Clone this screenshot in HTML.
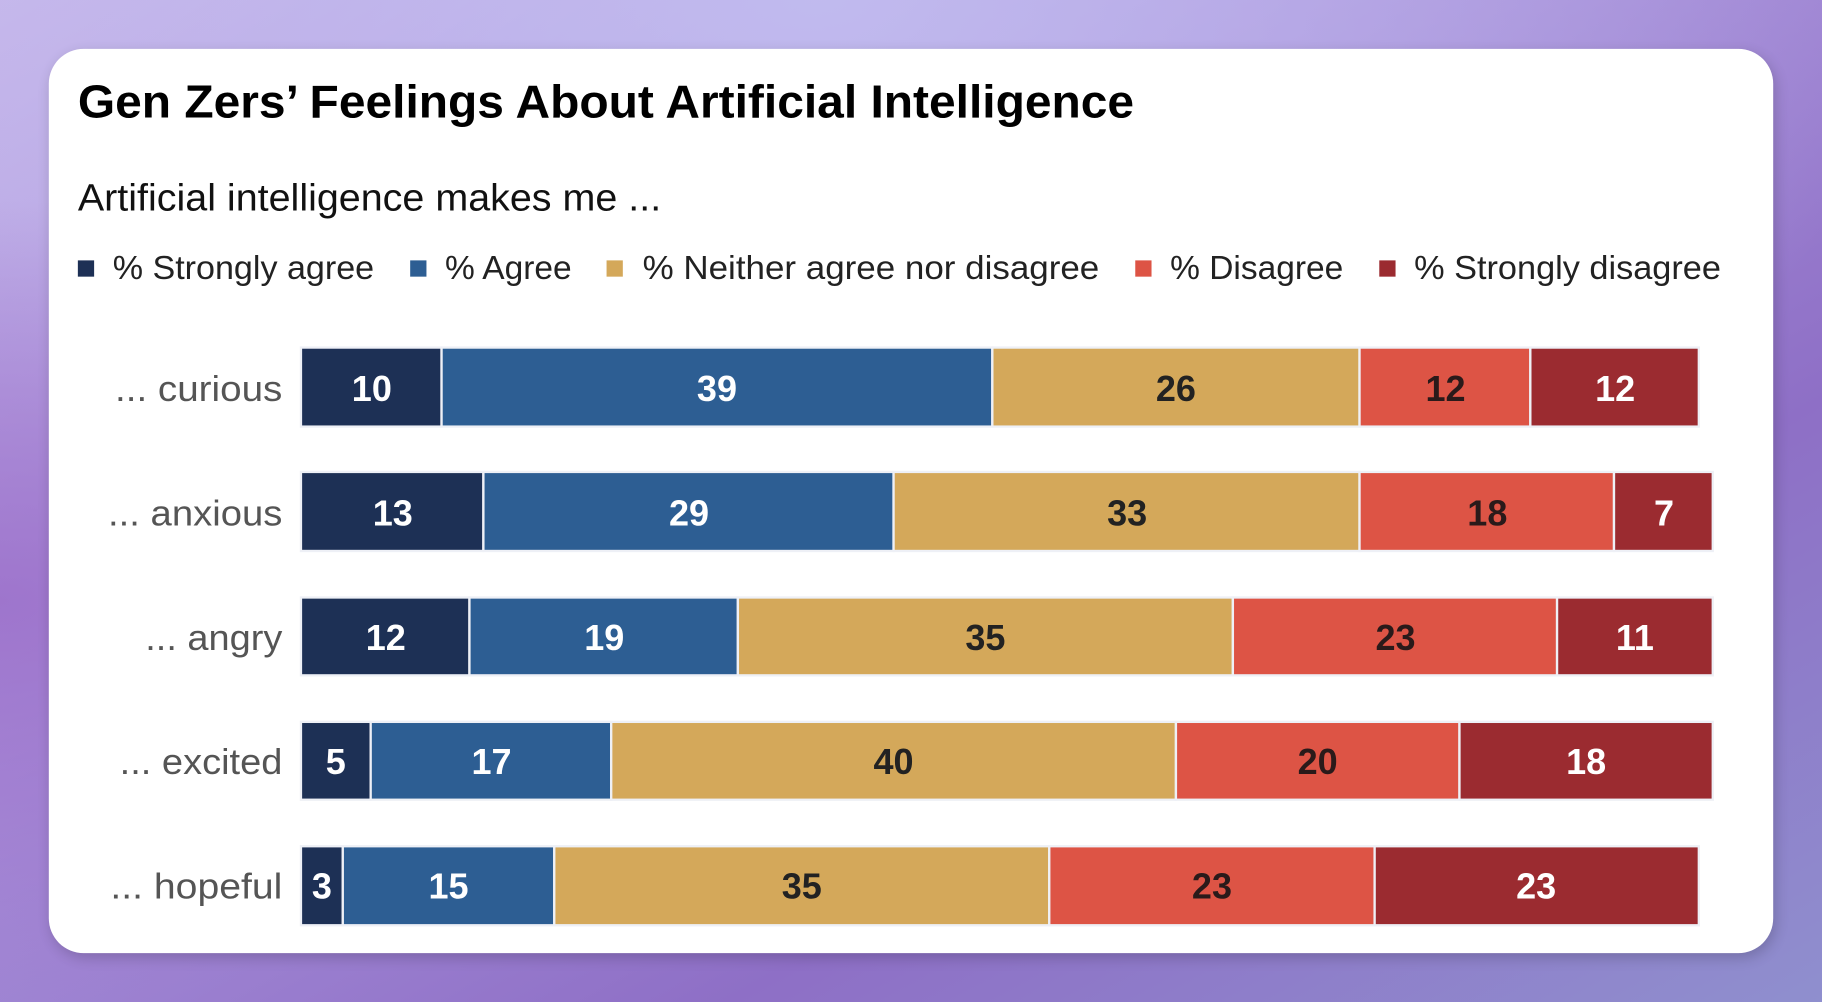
<!DOCTYPE html>
<html><head><meta charset="utf-8"><style>
html,body{margin:0;padding:0;width:1822px;height:1002px;overflow:hidden}
svg{display:block}
text{font-family:"Liberation Sans",sans-serif}
</style></head><body>
<svg width="1822" height="1002" viewBox="0 0 1568 862" preserveAspectRatio="none" xmlns="http://www.w3.org/2000/svg">
<defs>
<linearGradient id="bg" x1="0" y1="0" x2="1" y2="1">
<stop offset="0" stop-color="#c6b6ea"/>
<stop offset="0.35" stop-color="#ab94dc"/>
<stop offset="0.7" stop-color="#8e6fc6"/>
<stop offset="1" stop-color="#8f8fce"/>
</linearGradient>
<radialGradient id="g1" cx="0.45" cy="0" r="0.6">
<stop offset="0" stop-color="#c2bdf0" stop-opacity="0.9"/>
<stop offset="1" stop-color="#c2bdf0" stop-opacity="0"/>
</radialGradient>
<radialGradient id="g2" cx="0" cy="0.6" r="0.4">
<stop offset="0" stop-color="#9a6cc8" stop-opacity="0.8"/>
<stop offset="1" stop-color="#9a6cc8" stop-opacity="0"/>
</radialGradient>
<filter id="sh" x="-5%" y="-5%" width="110%" height="110%"><feGaussianBlur stdDeviation="6"/></filter>
</defs>
<rect width="1568" height="862" fill="url(#bg)"/>
<rect width="1568" height="862" fill="url(#g1)"/>
<rect width="1568" height="862" fill="url(#g2)"/>
<rect x="44" y="46" width="1484" height="778" rx="30" fill="#000" opacity="0.18" filter="url(#sh)"/>
<rect x="42" y="42" width="1484" height="778" rx="30" fill="#fff"/>

<text x="67" y="101" font-size="40" font-weight="bold" fill="#000" textLength="909" lengthAdjust="spacingAndGlyphs">Gen Zers’ Feelings About Artificial Intelligence</text>
<text x="67" y="181" font-size="33" fill="#111" textLength="502" lengthAdjust="spacingAndGlyphs">Artificial intelligence makes me ...</text>

<g font-size="29" fill="#222">
<rect x="67" y="224" width="14" height="14" fill="#1d3055"/>
<text x="97" y="240" textLength="225" lengthAdjust="spacingAndGlyphs">% Strongly agree</text>
<rect x="353" y="224" width="14" height="14" fill="#2d5e93"/>
<text x="383" y="240" textLength="109" lengthAdjust="spacingAndGlyphs">% Agree</text>
<rect x="522" y="224" width="14" height="14" fill="#d4a85a"/>
<text x="553" y="240" textLength="393" lengthAdjust="spacingAndGlyphs">% Neither agree nor disagree</text>
<rect x="977" y="224" width="14" height="14" fill="#dd5445"/>
<text x="1007" y="240" textLength="149" lengthAdjust="spacingAndGlyphs">% Disagree</text>
<rect x="1187" y="224" width="14" height="14" fill="#9b2b30"/>
<text x="1217" y="240" textLength="264" lengthAdjust="spacingAndGlyphs">% Strongly disagree</text>
</g>

<g font-size="31" fill="#555">
<text x="99" y="345" textLength="144" lengthAdjust="spacingAndGlyphs">... curious</text>
<text x="93" y="452" textLength="150" lengthAdjust="spacingAndGlyphs">... anxious</text>
<text x="125" y="559" textLength="118" lengthAdjust="spacingAndGlyphs">... angry</text>
<text x="103" y="666" textLength="140" lengthAdjust="spacingAndGlyphs">... excited</text>
<text x="95" y="773" textLength="148" lengthAdjust="spacingAndGlyphs">... hopeful</text>
</g>

<g stroke="#eef0f6" stroke-width="2">
<rect x="259" y="299" width="121" height="68" fill="#1d3055"/>
<rect x="380" y="299" width="474" height="68" fill="#2d5e93"/>
<rect x="854" y="299" width="316" height="68" fill="#d4a85a"/>
<rect x="1170" y="299" width="147" height="68" fill="#dd5445"/>
<rect x="1317" y="299" width="145" height="68" fill="#9b2b30"/>
<rect x="259" y="406" width="157" height="68" fill="#1d3055"/>
<rect x="416" y="406" width="353" height="68" fill="#2d5e93"/>
<rect x="769" y="406" width="401" height="68" fill="#d4a85a"/>
<rect x="1170" y="406" width="219" height="68" fill="#dd5445"/>
<rect x="1389" y="406" width="85" height="68" fill="#9b2b30"/>
<rect x="259" y="514" width="145" height="67" fill="#1d3055"/>
<rect x="404" y="514" width="231" height="67" fill="#2d5e93"/>
<rect x="635" y="514" width="426" height="67" fill="#d4a85a"/>
<rect x="1061" y="514" width="279" height="67" fill="#dd5445"/>
<rect x="1340" y="514" width="134" height="67" fill="#9b2b30"/>
<rect x="259" y="621" width="60" height="67" fill="#1d3055"/>
<rect x="319" y="621" width="207" height="67" fill="#2d5e93"/>
<rect x="526" y="621" width="486" height="67" fill="#d4a85a"/>
<rect x="1012" y="621" width="244" height="67" fill="#dd5445"/>
<rect x="1256" y="621" width="218" height="67" fill="#9b2b30"/>
<rect x="259" y="728" width="36" height="68" fill="#1d3055"/>
<rect x="295" y="728" width="182" height="68" fill="#2d5e93"/>
<rect x="477" y="728" width="426" height="68" fill="#d4a85a"/>
<rect x="903" y="728" width="280" height="68" fill="#dd5445"/>
<rect x="1183" y="728" width="279" height="68" fill="#9b2b30"/>
</g>
<g font-size="31" font-weight="bold" text-anchor="middle">
<text x="320" y="345" fill="#fff">10</text><text x="617" y="345" fill="#fff">39</text><text x="1012" y="345" fill="#222">26</text><text x="1244" y="345" fill="#2a1a1a">12</text><text x="1390" y="345" fill="#fff">12</text>
<text x="338" y="452" fill="#fff">13</text><text x="593" y="452" fill="#fff">29</text><text x="970" y="452" fill="#222">33</text><text x="1280" y="452" fill="#2a1a1a">18</text><text x="1432" y="452" fill="#fff">7</text>
<text x="332" y="559" fill="#fff">12</text><text x="520" y="559" fill="#fff">19</text><text x="848" y="559" fill="#222">35</text><text x="1201" y="559" fill="#2a1a1a">23</text><text x="1407" y="559" fill="#fff">11</text>
<text x="289" y="666" fill="#fff">5</text><text x="423" y="666" fill="#fff">17</text><text x="769" y="666" fill="#222">40</text><text x="1134" y="666" fill="#2a1a1a">20</text><text x="1365" y="666" fill="#fff">18</text>
<text x="277" y="773" fill="#fff">3</text><text x="386" y="773" fill="#fff">15</text><text x="690" y="773" fill="#222">35</text><text x="1043" y="773" fill="#2a1a1a">23</text><text x="1322" y="773" fill="#fff">23</text>
</g>
</svg>
</body></html>
